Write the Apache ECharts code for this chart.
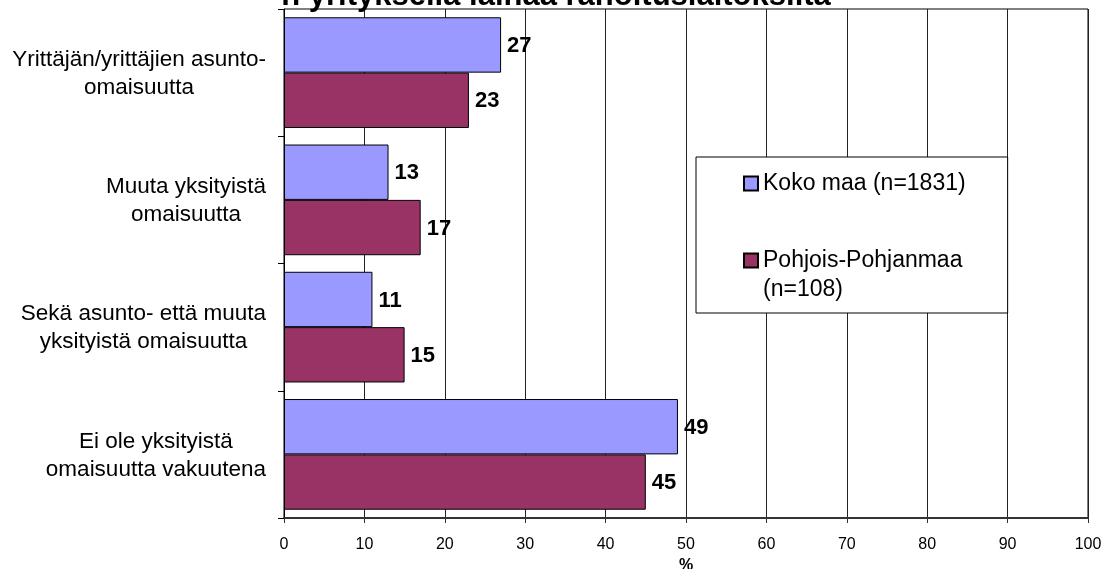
<!DOCTYPE html>
<html>
<head>
<meta charset="utf-8">
<style>
  html, body { margin: 0; padding: 0; background: #fff; }
  #chart { width: 1112px; height: 569px; }
</style>
<script src="https://cdn.jsdelivr.net/npm/echarts@6/dist/echarts.min.js"></script>
</head>
<body>
<div id="chart"></div>
<script>
// kategoriat ylhäältä alas
var categories = [
  "Yrittäjän/yrittäjien asunto-\nomaisuutta",
  "Muuta yksityistä\nomaisuutta",
  "Sekä asunto- että muuta\nyksityistä omaisuutta",
  "Ei ole yksityistä\nomaisuutta vakuutena"
];
var kokoMaa = [27, 13, 11, 49];
var pohjoisPohjanmaa = [23, 17, 15, 45];
var seriesNames = ["Koko maa (n=1831)", "Pohjois-Pohjanmaa\n(n=108)"];
var xTicks = [0, 100, 10];

var font = "'Liberation Sans', Arial, sans-serif";
var chart = echarts.init(document.getElementById("chart"));

chart.setOption({
  animation: false,
  title: {
    text: "n yrityksellä lainaa rahoituslaitoksilta",
    left: "center",
    top: -24,
    textStyle: { fontFamily: font, fontSize: 31, fontWeight: "bold", color: "#000" }
  },
  grid: {
    left: 284,
    right: 24,
    top: 9,
    bottom: 51,
    outerBoundsMode: "none",
    containLabel: false,
    show: true,
    borderColor: "#000",
    borderWidth: 1
  },
  legend: {
    orient: "vertical",
    left: 696,
    top: 157,
    padding: [12, 42, 9, 47],
    itemGap: 19,
    backgroundColor: "#fff",
    borderColor: "#000",
    borderWidth: 1,
    borderRadius: 0,
    itemWidth: 14,
    itemHeight: 14,
    icon: "rect",
    formatter: function (name) {
      // tyhjä rivi alkuun, jotta ikoni osuu ensimmäiselle tekstiriville
      return name.indexOf("\n") >= 0 ? "\n" + name : name;
    },
    textStyle: { fontFamily: font, fontSize: 23, color: "#000", lineHeight: 29 },
    data: seriesNames
  },
  xAxis: {
    type: "value",
    min: xTicks[0],
    max: xTicks[1],
    interval: xTicks[2],
    name: "%",
    nameLocation: "middle",
    nameGap: 40,
    nameTextStyle: { fontFamily: font, fontSize: 16, fontWeight: "bold", color: "#000" },
    axisLine: { show: true, lineStyle: { color: "#333", width: 2 } },
    axisTick: { show: true, length: 5, lineStyle: { color: "#333" } },
    axisLabel: {
      margin: 19,
      fontFamily: font,
      fontSize: 16,
      color: "#000"
    },
    splitLine: { show: true, lineStyle: { color: "#222", width: 1 } }
  },
  yAxis: {
    type: "category",
    inverse: true,
    data: categories,
    axisLine: { show: true, lineStyle: { color: "#000", width: 1 } },
    axisTick: { show: true, length: 6, lineStyle: { color: "#000" } },
    axisLabel: {
      margin: 18,
      color: "#000",
      formatter: function (v) {
        return v.split("\n").map(function (s) { return "{c|" + s + "}"; }).join("\n");
      },
      rich: {
        c: { fontFamily: font, fontSize: 22.5, lineHeight: 28, color: "#000", align: "center", padding: [2, 0, 0, 0] }
      }
    }
  },
  series: [
    {
      name: seriesNames[0],
      type: "bar",
      data: kokoMaa,
      barGap: "0%",
      barCategoryGap: "13%",
      itemStyle: { color: "#9999FF", borderColor: "#000", borderWidth: 1 },
      label: {
        show: true, position: "right", distance: 6, offset: [0, 1],
        fontFamily: font, fontSize: 22, fontWeight: "bold", color: "#000"
      }
    },
    {
      name: seriesNames[1],
      type: "bar",
      data: pohjoisPohjanmaa,
      barGap: "0%",
      barCategoryGap: "13%",
      itemStyle: { color: "#993366", borderColor: "#000", borderWidth: 1 },
      label: {
        show: true, position: "right", distance: 6, offset: [0, 1],
        fontFamily: font, fontSize: 22, fontWeight: "bold", color: "#000"
      }
    }
  ]
});
</script>
</body>
</html>
